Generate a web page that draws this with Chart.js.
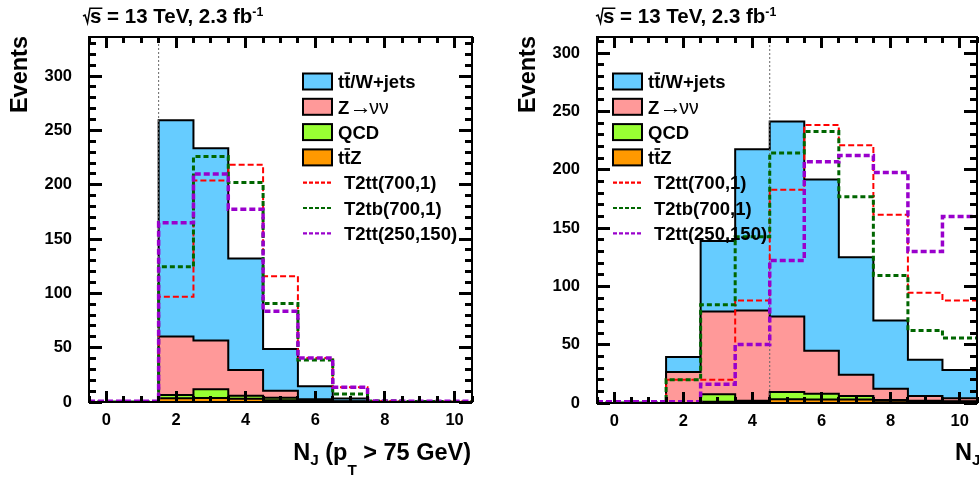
<!DOCTYPE html>
<html>
<head>
<meta charset="utf-8">
<script src="https://cdn.jsdelivr.net/npm/chart.js@4.4.0/dist/chart.umd.min.js"></script>
<style>
  html, body { margin: 0; padding: 0; background: #fff; }
  body { width: 979px; height: 477px; position: relative; overflow: hidden; }
  canvas { position: absolute; top: 0; }
  #njLeft { left: 0; }
  #njRight { left: 490px; }
</style>
</head>
<body>
<canvas id="njLeft" width="490" height="477"></canvas>
<canvas id="njRight" width="489" height="477"></canvas>
<script>
// jet multiplicity bins (bin centres) and axis ticks
const nJets = [0, 1, 2, 3, 4, 5, 6, 7, 8, 9, 10];
const xTickValues = [0, 2, 4, 6, 8, 10];
const yTickValues = [0, 50, 100, 150, 200, 250, 300];

const legendLabels = ['tt\u0304/W+jets', 'Z\u2192\u03bd\u03bd', 'QCD', 'tt\u0304Z',
                      'T2tt(700,1)', 'T2tb(700,1)', 'T2tt(250,150)'];

// left pad: backgrounds
const ttwLeft = [0, 0, 199, 177, 102.6, 38.3, 12, 2.5, 0.3, 0.1, 0];
const znnLeft = [0, 0, 54, 45, 23.6, 6.4, 1.5, 0.5, 0, 0, 0];
const qcdLeft = [0, 0, 2.9, 8, 2.8, 2.5, 0.5, 0, 0, 0, 0];
const ttzLeft = [0, 0, 3.5, 3.7, 3, 1.5, 0.5, 0.2, 0, 0, 0];
// left pad: signals
const t2tt700Left = [0, 0, 96.8, 204, 218.5, 115.8, 40.6, 13.5, 1, 0.5, 0.5];
const t2tbLeft    = [0, 0, 124.4, 226, 202, 90.7, 38.6, 7.4, 1, 0.5, 0.5];
const t2tt250Left = [0.8, 0.8, 165, 210, 177.4, 83.6, 40.6, 13.5, 1, 0.8, 0.8];

// right pad: backgrounds
const ttwRight = [0, 0, 12.9, 60.5, 138.4, 167.2, 147, 100.8, 58.5, 31.2, 24.4];
const znnRight = [0, 0, 26.5, 71.1, 77.4, 64.8, 36.8, 18.3, 9.8, 4, 2.5];
const qcdRight = [0, 0, 0, 6.4, 1, 6.2, 5, 3, 0.5, 0.5, 0.5];
const ttzRight = [0, 0, 0, 1, 1, 3.2, 3, 3, 2, 1.5, 1];
// right pad: signals
const t2tt700Right = [0.5, 0.5, 20, 20, 88, 183, 238.6, 221.2, 161.6, 94.5, 88];
const t2tbRight    = [0, 0, 20, 84.2, 142.7, 214.4, 232.9, 177, 109.3, 62.2, 55.7];
const t2tt250Right = [1, 1, 1, 16, 50.2, 122.2, 207, 212.3, 197.8, 129.9, 160];

const cutLeft = 1.5;
const cutRight = 4.5;

const X_MIN = -0.5, X_MAX = 10.5;
const FONT = "'Liberation Sans', Arial, Helvetica, sans-serif";
const bkgColors = ['#ff9900', '#99ff33', '#ff9999', '#66ccff'];   // ttZ, QCD, Z, tt/W
const sigStyles = [
  { color: '#ff0000', width: 2,   dash: [6, 3] },
  { color: '#006600', width: 3,   dash: [5, 3] },
  { color: '#9900cc', width: 3.5, dash: [6, 3] }
];

// histogram contour: one point per lower bin edge plus the last upper edge
function steps(values) {
  const pts = values.map((v, i) => ({ x: nJets[i] - 0.5, y: v }));
  pts.push({ x: nJets[nJets.length - 1] + 0.5, y: values[values.length - 1] });
  return pts;
}

function font(size, weight) { return (weight || 'bold') + ' ' + size + 'px ' + FONT; }

// legend label: macron drawn as a bar over the previous letter,
// arrow and greek letters in the thin symbol style
function drawLabel(ctx, text, x, y, size) {
  const chars = Array.from(text);
  let cx = x;
  for (let i = 0; i < chars.length; i++) {
    const c = chars[i];
    if (c === '\u0304') continue;
    if (c === '\u2192') ctx.font = font(size * 1.2, 'normal');
    else if (c === '\u03bd') ctx.font = font(size * 1.05, 'normal');
    else ctx.font = font(size);
    ctx.fillText(c, cx, y);
    const w = ctx.measureText(c).width;
    if (chars[i + 1] === '\u0304') ctx.fillRect(cx + w * 0.05, y - size * 0.86, w * 0.9, 1.6);
    cx += c === '\u2192' ? w * 0.9 : w;
  }
}

// text made of pieces with their own scale and vertical shift (sub/superscripts)
function drawParts(ctx, parts, x, y, size, align) {
  const widths = parts.map(p => { ctx.font = font(size * (p.s || 1)); return ctx.measureText(p.t).width; });
  let cx = align === 'right' ? x - widths.reduce((a, b) => a + b, 0) : x;
  parts.forEach((p, i) => {
    ctx.font = font(size * (p.s || 1));
    ctx.fillText(p.t, cx, y + (p.dy || 0) * size);
    cx += widths[i];
  });
}

// frame with inward ticks on all four sides
function drawFrame(chart, yMax) {
  const ctx = chart.ctx;
  const a = chart.chartArea;
  const sx = chart.scales.x, sy = chart.scales.y;
  const t = 3;
  ctx.save();
  ctx.setLineDash([]);
  ctx.strokeStyle = '#000';
  ctx.fillStyle = '#000';
  ctx.lineWidth = 2;
  const nx = Math.round((X_MAX - X_MIN) * 2);
  for (let k = 0; k <= nx; k++) {
    const v = X_MIN + k / 2;
    const px = Math.round(sx.getPixelForValue(v) - t / 2);
    const len = Math.abs(v % 2) < 1e-6 ? 11 : 6;
    ctx.fillRect(px, a.bottom - len, t, len);
    ctx.fillRect(px, a.top, t, len);
  }
  for (let v = 0; v <= yMax; v += 10) {
    const py = Math.round(sy.getPixelForValue(v) - t / 2);
    const len = v % 50 === 0 ? 13 : 7;
    ctx.fillRect(a.left, py, len, t);
    ctx.fillRect(a.right - len, py, len, t);
  }
  ctx.strokeRect(a.left, a.top, a.right - a.left, a.bottom - a.top);
  ctx.restore();
}

const overlayPlugin = {
  id: 'overlay',
  afterDraw(chart) {
    const p = chart.options.plugins.overlay;
    drawFrame(chart, p.yMax);
    const ctx = chart.ctx;
    ctx.save();
    ctx.setLineDash([]);
    ctx.fillStyle = '#000';
    ctx.textAlign = 'left';
    ctx.textBaseline = 'alphabetic';

    // legend
    const size = 18.5;
    legendLabels.forEach((lbl, i) => {
      const ds = chart.data.datasets.find(d => d.label === lbl);
      const ry = p.legendY + i * 25.3;
      if (ds.fill) {
        ctx.fillStyle = ds.backgroundColor;
        ctx.fillRect(p.legendX, ry - 8, 29, 16);
        ctx.strokeStyle = '#000';
        ctx.lineWidth = 2;
        ctx.strokeRect(p.legendX, ry - 8, 29, 16);
        ctx.fillStyle = '#000';
        drawLabel(ctx, lbl, p.legendX + 35, ry + 6.7, size);
      } else {
        ctx.strokeStyle = ds.borderColor;
        ctx.lineWidth = 2.2;
        ctx.setLineDash([4, 2]);
        ctx.beginPath();
        ctx.moveTo(p.legendX, ry); ctx.lineTo(p.legendX + 29, ry);
        ctx.stroke();
        ctx.setLineDash([]);
        ctx.fillStyle = '#000';
        drawLabel(ctx, lbl, p.legendX + 41, ry + 6.7, size);
      }
    });

    // centre-of-mass energy and luminosity
    const ls = 20.5, lx = p.lumiX, ly = 23;
    ctx.strokeStyle = '#000';
    ctx.lineWidth = 1.5;
    ctx.font = font(ls);
    const sw = ctx.measureText('s').width;
    ctx.beginPath();
    ctx.moveTo(lx, ly - 0.34 * ls);
    ctx.lineTo(lx + 0.1 * ls, ly - 0.39 * ls);
    ctx.lineTo(lx + 0.22 * ls, ly);
    ctx.lineTo(lx + 0.34 * ls, ly - 0.72 * ls);
    ctx.lineTo(lx + 0.34 * ls + sw + 1, ly - 0.72 * ls);
    ctx.stroke();
    drawParts(ctx, [{ t: 's = 13 TeV, 2.3 fb' }, { t: '-1', s: 0.6, dy: -0.32 }], lx + 0.34 * ls, ly, ls, 'left');

    // axis titles
    ctx.save();
    ctx.translate(p.eventsX, 36);
    ctx.rotate(-Math.PI / 2);
    ctx.textAlign = 'right';
    ctx.font = font(23.5);
    ctx.fillText('Events', 0, 0);
    ctx.restore();

    drawParts(ctx, [
      { t: 'N' }, { t: 'J', s: 0.65, dy: 0.22 }, { t: ' (p' }, { t: 'T', s: 0.65, dy: 0.62 },
      { t: ' > 75 GeV)' }
    ], p.titleX, 460, 23.5, p.titleAlign);
    ctx.restore();
  }
};

function makePanel(canvasId, d) {
  const stackLayer = (i, data, fill) => ({
    label: legendLabels[3 - i], data: steps(data), backgroundColor: bkgColors[i],
    borderColor: '#000', borderWidth: 2, fill: fill, stepped: 'before', stack: 'bkg'
  });
  const signal = (i, data) => ({
    label: legendLabels[4 + i], data: steps(data), borderColor: sigStyles[i].color,
    borderWidth: sigStyles[i].width, borderDash: sigStyles[i].dash, borderCapStyle: 'butt',
    fill: false, stepped: 'before', stack: 'sig' + i
  });
  // index 0 is drawn last (on top); background stack builds up from ttZ
  const datasets = [
    signal(2, d.sig[2]),
    signal(1, d.sig[1]),
    signal(0, d.sig[0]),
    { label: 'cut', data: [{ x: d.cut, y: 0 }, { x: d.cut, y: d.yMax }], borderColor: '#666',
      borderWidth: 1, borderDash: [2, 2], fill: false, stack: 'cut' },
    stackLayer(0, d.bkg[0], 'origin'),
    stackLayer(1, d.bkg[1], '-1'),
    stackLayer(2, d.bkg[2], '-1'),
    stackLayer(3, d.bkg[3], '-1')
  ];
  const tickFont = { family: FONT, size: 16.5, weight: 'bold' };
  d.overlay.yMax = d.yMax;
  return new Chart(document.getElementById(canvasId), {
    type: 'line',
    data: { datasets: datasets },
    options: {
      responsive: false,
      animation: false,
      events: [],
      layout: { autoPadding: false, padding: { left: 0, right: d.padRight, top: 37, bottom: 0 } },
      elements: { point: { radius: 0 }, line: { tension: 0 } },
      scales: {
        x: {
          type: 'linear', min: X_MIN, max: X_MAX,
          grid: { display: false }, border: { display: false },
          afterBuildTicks: s => { s.ticks = xTickValues.map(v => ({ value: v })); },
          afterFit: s => { s.height = d.axisH; },
          ticks: { color: '#000', font: tickFont, padding: 1, maxRotation: 0, autoSkip: false }
        },
        y: {
          type: 'linear', min: 0, max: d.yMax, stacked: true,
          grid: { display: false }, border: { display: false },
          afterBuildTicks: s => { s.ticks = yTickValues.map(v => ({ value: v })); },
          afterFit: s => { s.width = d.axisW; },
          ticks: { color: '#000', font: tickFont, padding: 9 }
        }
      },
      plugins: {
        legend: { display: false },
        tooltip: { enabled: false },
        overlay: d.overlay
      }
    },
    plugins: [overlayPlugin]
  });
}

makePanel('njLeft', {
  bkg: [ttzLeft, qcdLeft, znnLeft, ttwLeft],
  sig: [t2tt700Left, t2tbLeft, t2tt250Left],
  cut: cutLeft, yMax: 336, axisW: 89, axisH: 75, padRight: 18,
  overlay: { legendX: 303, legendY: 81.5, lumiX: 83, eventsX: 27, titleX: 471, titleAlign: 'right' }
});

makePanel('njRight', {
  bkg: [ttzRight, qcdRight, znnRight, ttwRight],
  sig: [t2tt700Right, t2tbRight, t2tt250Right],
  cut: cutRight, yMax: 314, axisW: 107, axisH: 74, padRight: 2,
  overlay: { legendX: 123, legendY: 81.5, lumiX: 106, eventsX: 45, titleX: 465, titleAlign: 'left' }
});
</script>
</body>
</html>
